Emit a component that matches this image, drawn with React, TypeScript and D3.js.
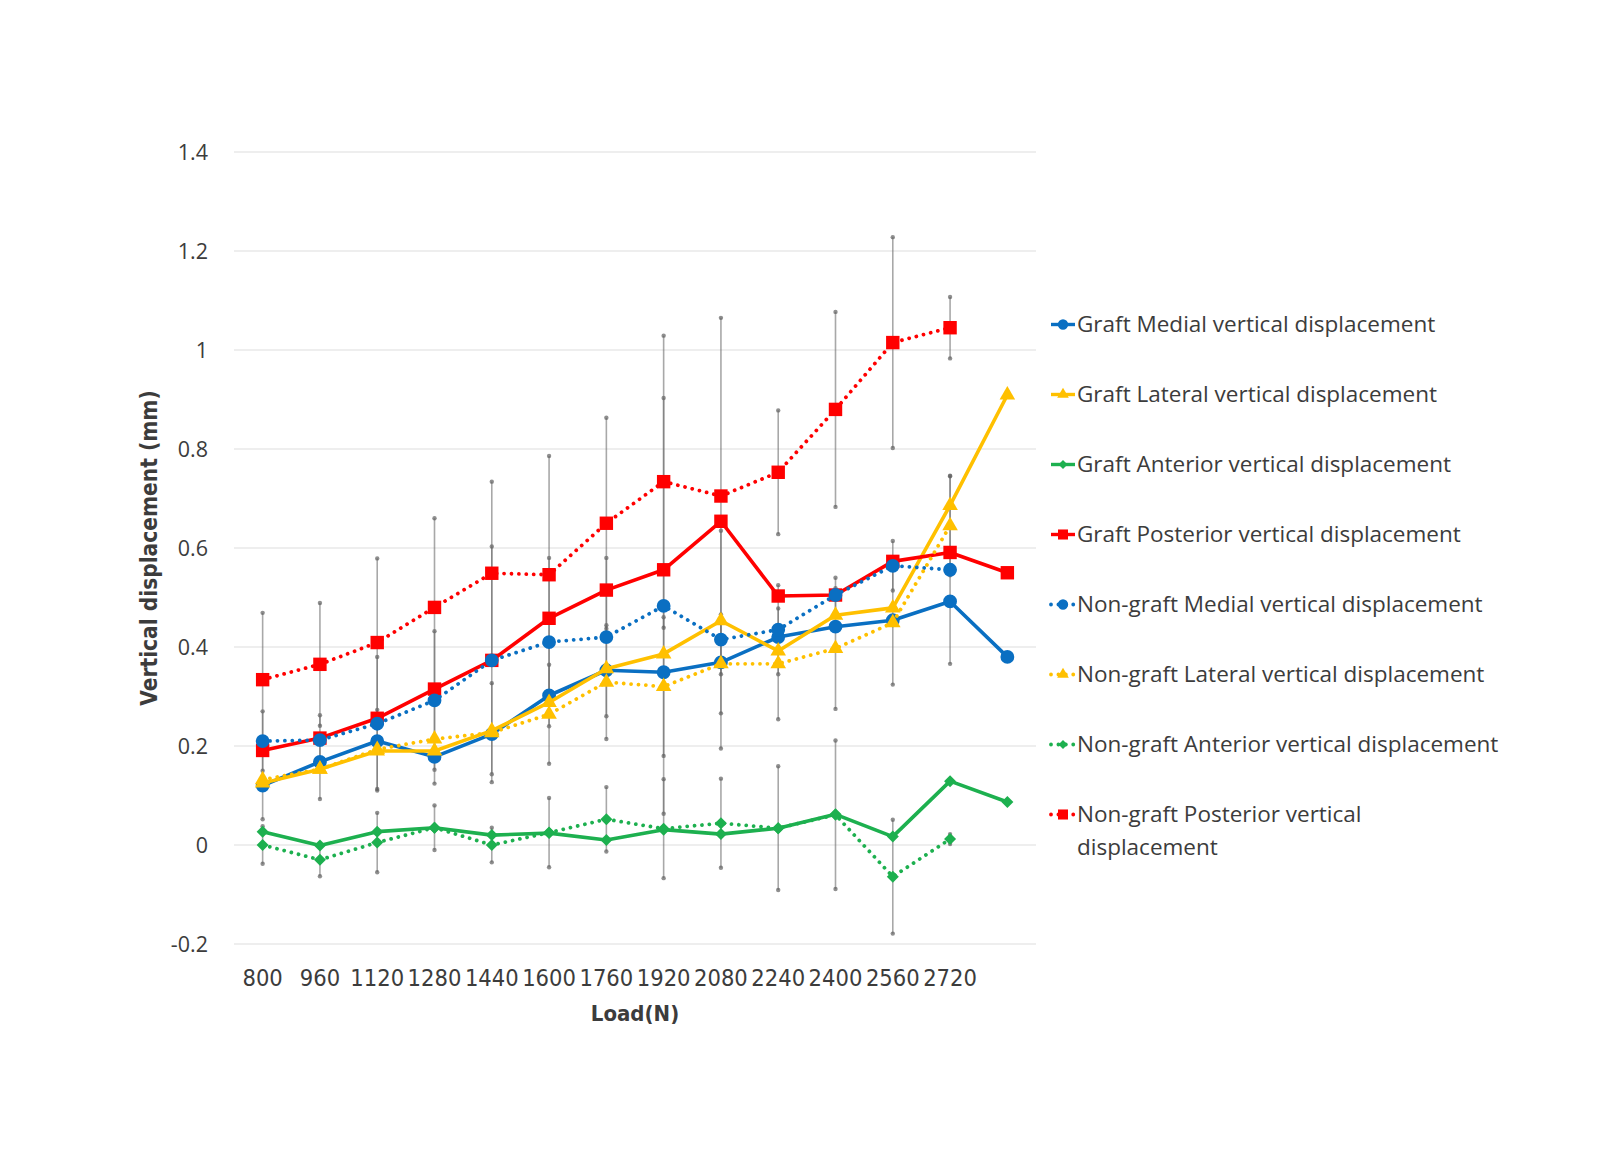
import React, { useEffect, useRef } from 'react';
import * as d3 from 'd3';

// load steps (N); the last category has no label
const loadLabels = ['800', '960', '1120', '1280', '1440', '1600', '1760', '1920', '2080', '2240', '2400', '2560', '2720', ''];
const yTicks = [-0.2, 0, 0.2, 0.4, 0.6, 0.8, 1, 1.2, 1.4];

const graftMedial = [0.12, 0.168, 0.21, 0.178, 0.224, 0.302, 0.353, 0.349, 0.369, 0.42, 0.441, 0.454, 0.492, 0.38];
const graftLateral = [0.125, 0.153, 0.19, 0.19, 0.231, 0.288, 0.356, 0.386, 0.453, 0.392, 0.464, 0.479, 0.686, 0.909];
const graftAnterior = [0.027, -0.001, 0.027, 0.035, 0.02, 0.024, 0.01, 0.031, 0.022, 0.034, 0.062, 0.017, 0.129, 0.087];
const graftPosterior = [0.191, 0.216, 0.256, 0.315, 0.373, 0.458, 0.515, 0.556, 0.654, 0.503, 0.505, 0.573, 0.591, 0.55];

const nonGraftMedial = [0.21, 0.212, 0.245, 0.292, 0.373, 0.41, 0.42, 0.483, 0.415, 0.435, 0.505, 0.564, 0.556];
const nonGraftLateral = [0.132, 0.153, 0.193, 0.214, 0.227, 0.264, 0.329, 0.32, 0.366, 0.366, 0.397, 0.449, 0.645];
const nonGraftAnterior = [0, -0.03, 0.005, 0.035, 0, 0.025, 0.052, 0.033, 0.044, 0.034, 0.061, -0.064, 0.012];
const nonGraftPosterior = [0.334, 0.365, 0.409, 0.48, 0.549, 0.546, 0.65, 0.734, 0.705, 0.753, 0.88, 1.015, 1.045];

// error bar half-widths (non-graft series only)
const nonGraftMedialErr = [0.06, 0.05, 0.135, 0.14, 0.23, 0.17, 0.16, 0.42, 0.22, 0.09, 0.035, 0.05, 0.19];
const nonGraftLateralErr = [0.08, 0.06, 0.08, 0.09, 0.1, 0.1, 0.115, 0.14, 0.1, 0.112, 0.122, 0.125, 0.1];
const nonGraftAnteriorErr = [0.038, 0.033, 0.06, 0.045, 0.035, 0.07, 0.065, 0.1, 0.09, 0.125, 0.15, 0.115, 0.01];
const nonGraftPosteriorErr = [0.135, 0.124, 0.17, 0.18, 0.185, 0.24, 0.213, 0.295, 0.36, 0.125, 0.197, 0.213, 0.062];

const BLUE = '#0a6fc2';
const YELLOW = '#ffc000';
const GREEN = '#1db04f';
const RED = '#ff0000';

const series = [
  { name: 'Graft Medial vertical displacement', values: graftMedial, color: BLUE, marker: 'circle', dotted: false },
  { name: 'Graft Lateral vertical displacement', values: graftLateral, color: YELLOW, marker: 'triangle', dotted: false },
  { name: 'Graft Anterior vertical displacement', values: graftAnterior, color: GREEN, marker: 'diamond', dotted: false },
  { name: 'Graft Posterior vertical displacement', values: graftPosterior, color: RED, marker: 'square', dotted: false },
  { name: 'Non-graft Medial vertical displacement', values: nonGraftMedial, err: nonGraftMedialErr, color: BLUE, marker: 'circle', dotted: true },
  { name: 'Non-graft Lateral vertical displacement', values: nonGraftLateral, err: nonGraftLateralErr, color: YELLOW, marker: 'triangle', dotted: true },
  { name: 'Non-graft Anterior vertical displacement', values: nonGraftAnterior, err: nonGraftAnteriorErr, color: GREEN, marker: 'diamond', dotted: true },
  { name: 'Non-graft Posterior vertical displacement', values: nonGraftPosterior, err: nonGraftPosteriorErr, color: RED, marker: 'square', dotted: true },
];

const symbolFor = (m) => {
  if (m === 'circle') return d3.symbol().type(d3.symbolCircle).size(150)();
  if (m === 'triangle') return d3.symbol().type(d3.symbolTriangle).size(105)();
  if (m === 'square') return d3.symbol().type(d3.symbolSquare).size(180)();
  return d3.symbol().type(d3.symbolSquare).size(72)();
};

const FONT = '"Open Sans", Lato, sans-serif';
const NARROW = '"DejaVu Sans", sans-serif';

const App = () => {
  const ref = useRef(null);

  useEffect(() => {
    const svg = d3.select(ref.current);
    svg.selectAll('*').remove();

    const left = 234, right = 1036, top = 152, bottom = 944;
    const x = d3.scalePoint().domain(loadLabels.map((_, i) => String(i))).range([left, right]).padding(0.5);
    const y = d3.scaleLinear().domain([-0.2, 1.4]).range([bottom, top]);
    const xi = (i) => x(String(i));

    // gridlines
    svg.append('g').selectAll('line').data(yTicks).enter().append('line')
      .attr('x1', left).attr('x2', right)
      .attr('y1', d => y(d)).attr('y2', d => y(d))
      .attr('stroke', '#e8e8e8').attr('stroke-width', 1.5);

    // y tick labels
    svg.append('g').selectAll('text').data(yTicks).enter().append('text')
      .attr('x', 208).attr('y', d => y(d)).attr('dy', '0.35em')
      .attr('text-anchor', 'end')
      .style('font-family', FONT).style('font-size', '21.5px').attr('fill', '#3c3c3c')
      .text(d => String(d));

    // x tick labels
    svg.append('g').selectAll('text').data(loadLabels).enter().append('text')
      .attr('x', (_, i) => xi(i)).attr('y', 978).attr('dy', '0.35em')
      .attr('text-anchor', 'middle')
      .style('font-family', NARROW).style('font-stretch', 'condensed')
      .style('font-size', '23.5px').attr('fill', '#3c3c3c')
      .text(d => d);

    // axis titles
    svg.append('text')
      .attr('transform', `translate(149,${(top + bottom) / 2}) rotate(-90)`)
      .attr('text-anchor', 'middle').attr('dy', '0.35em')
      .style('font-family', NARROW).style('font-stretch', 'condensed').style('font-weight', 'bold')
      .style('font-size', '22.5px').attr('fill', '#3c3c3c')
      .text('Vertical displacement (mm)');
    svg.append('text')
      .attr('x', (left + right) / 2).attr('y', 1013).attr('dy', '0.35em')
      .attr('text-anchor', 'middle')
      .style('font-family', NARROW).style('font-stretch', 'condensed').style('font-weight', 'bold')
      .style('font-size', '22px').attr('fill', '#3c3c3c')
      .text('Load(N)');

    // error bars
    const eg = svg.append('g');
    series.filter(s => s.err).forEach(s => {
      s.values.forEach((v, i) => {
        const e = s.err[i];
        eg.append('line')
          .attr('x1', xi(i)).attr('x2', xi(i))
          .attr('y1', y(v - e)).attr('y2', y(v + e))
          .attr('stroke', '#6e6e6e').attr('stroke-opacity', 0.6).attr('stroke-width', 1.6);
        [v - e, v + e].forEach(c => {
          eg.append('circle').attr('cx', xi(i)).attr('cy', y(c)).attr('r', 2.2)
            .attr('fill', '#606060').attr('fill-opacity', 0.7);
        });
      });
    });

    const line = d3.line().x((_, i) => xi(i)).y(d => y(d));

    series.forEach(s => {
      const g = svg.append('g');
      g.append('path').datum(s.values)
        .attr('d', line)
        .attr('fill', 'none').attr('stroke', s.color)
        .attr('stroke-width', s.dotted ? 3.8 : 3.6)
        .attr('stroke-linecap', s.dotted ? 'round' : 'butt')
        .attr('stroke-linejoin', 'round')
        .attr('stroke-dasharray', s.dotted ? '0.01 7.4' : null);
      g.selectAll('path.m').data(s.values).enter().append('path')
        .attr('class', 'm')
        .attr('d', symbolFor(s.marker))
        .attr('transform', (d, i) => `translate(${xi(i)},${y(d)})${s.marker === 'diamond' ? ' rotate(45)' : ''}`)
        .attr('fill', s.color);
    });

    // legend
    const lg = svg.append('g');
    const rowY = (i) => 324.5 + i * 70;
    series.forEach((s, i) => {
      const ly = rowY(i);
      lg.append('line')
        .attr('x1', 1051).attr('x2', 1075).attr('y1', ly).attr('y2', ly)
        .attr('stroke', s.color).attr('stroke-width', s.dotted ? 3.8 : 3.4)
        .attr('stroke-linecap', s.dotted ? 'round' : 'butt')
        .attr('stroke-dasharray', s.dotted ? '0.01 7.4' : null);
      lg.append('path')
        .attr('d', symbolFor(s.marker))
        .attr('transform', `translate(1063,${ly}) scale(0.75)${s.marker === 'diamond' ? ' rotate(45)' : ''}`)
        .attr('fill', s.color);
      const words = s.name === 'Non-graft Posterior vertical displacement'
        ? ['Non-graft Posterior vertical', 'displacement'] : [s.name];
      words.forEach((w, k) => {
        lg.append('text')
          .attr('x', 1077).attr('y', ly + k * 33).attr('dy', '0.35em')
          .style('font-family', FONT).style('font-size', '22.5px')
          .attr('fill', '#3c3c3c')
          .text(w);
      });
    });
  }, []);

  return (
    <svg ref={ref} width={1600} height={1152}
      style={{ position: 'absolute', left: 0, top: 0, background: '#fff' }} />
  );
};

export default App;
